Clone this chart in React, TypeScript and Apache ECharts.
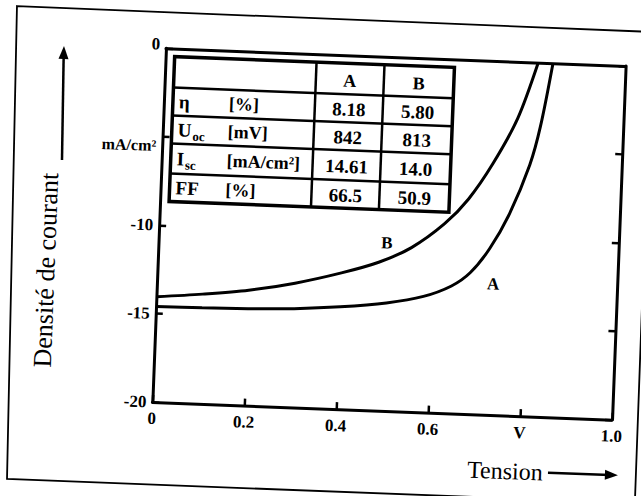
import React, { useEffect, useRef } from "react";
import * as echarts from "echarts";

// ---- data ----
const voltageA = [0, 0.1, 0.2, 0.3, 0.4, 0.5, 0.58, 0.64, 0.68, 0.72, 0.76, 0.8, 0.82, 0.842];
const currentA = [-14.6, -14.57, -14.52, -14.42, -14.22, -13.9, -13.45, -12.8, -12.0, -10.6, -8.6, -5.8, -3.6, 0];
const voltageB = [0, 0.1, 0.2, 0.3, 0.4, 0.48, 0.55, 0.62, 0.67, 0.72, 0.77, 0.81];
const currentB = [-14.05, -13.8, -13.48, -12.98, -12.3, -11.62, -10.72, -9.3, -7.85, -5.8, -3.2, 0];

const xTickValues = [0, 0.2, 0.4, 0.6, 0.8, 1.0];
const xTickLabels = ["0", "0.2", "0.4", "0.6", "V", "1.0"];
const yTickValues = [0, -5, -10, -15, -20];
const yTickLabels = ["0", "mA/cm²", "-10", "-15", "-20"];

const tableColumns = ["A", "B"];
const paramNames = ["η", "U", "I", "FF"];
const paramSubs = ["", "oc", "sc", ""];
const paramUnits = ["[%]", "[mV]", "[mA/cm²]", "[%]"];
const valuesA = ["8.18", "842", "14.61", "66.5"];
const valuesB = ["5.80", "813", "14.0", "50.9"];

const xTitle = "Tension";
const yTitle = "Densité de courant";

// ---- page geometry ----
const ANGLE = 2.2; // scan is rotated clockwise
const CX = 389.5;
const CY = 234;
const SERIF = "'Liberation Serif', 'DejaVu Serif', serif";

function toChart(sx: number, sy: number): [number, number] {
  const r = (ANGLE * Math.PI) / 180;
  const c = Math.cos(r);
  const s = Math.sin(r);
  const dx = sx - CX;
  const dy = sy - CY;
  return [dx * c + dy * s + CX, -dx * s + dy * c + CY];
}

function pickLabel(values: number[], labels: string[], v: number) {
  for (let i = 0; i < values.length; i++) {
    if (Math.abs(values[i] - v) < 1e-6) return labels[i];
  }
  return "";
}

function measure(text: string, font: string) {
  const ctx = document.createElement("canvas").getContext("2d");
  if (!ctx) return text.length * 10;
  ctx.font = font;
  return ctx.measureText(text).width;
}

function buildTable(): any[] {
  const x0 = 168;
  const y0 = 65;
  const colX = [0, 142, 210, 280];
  const rowY = [0, 31, 59, 87, 117, 145];
  const W = colX[colX.length - 1];
  const H = rowY[rowY.length - 1];
  const els: any[] = [];
  const line = (x1: number, y1: number, x2: number, y2: number, w: number) =>
    els.push({
      type: "line",
      shape: { x1: x0 + x1, y1: y0 + y1, x2: x0 + x2, y2: y0 + y2 },
      style: { stroke: "#000", lineWidth: w },
      silent: true,
    });
  els.push({
    type: "rect",
    shape: { x: x0, y: y0, width: W, height: H },
    style: { fill: "#fff", stroke: "#000", lineWidth: 3.5 },
    silent: true,
  });
  for (let i = 1; i < rowY.length - 1; i++) line(0, rowY[i], W, rowY[i], 2.5);
  for (let j = 1; j < colX.length - 1; j++) line(colX[j], 0, colX[j], H, 2.5);

  const txt = (text: string, x: number, y: number, size: number, align = "center") =>
    els.push({
      type: "text",
      x: x0 + x,
      y: y0 + y,
      style: {
        text,
        fill: "#000",
        font: `bold ${size}px ${SERIF}`,
        align,
        verticalAlign: "middle",
      },
      silent: true,
    });

  tableColumns.forEach((c, j) => {
    txt(c, (colX[j + 1] + colX[j + 2]) / 2, (rowY[0] + rowY[1]) / 2 + 2, 18);
  });
  for (let i = 0; i < paramNames.length; i++) {
    const cy = (rowY[i + 1] + rowY[i + 2]) / 2;
    txt(paramNames[i], 6, cy, 19, "left");
    if (paramSubs[i]) {
      const w = measure(paramNames[i], `bold 19px ${SERIF}`);
      txt(paramSubs[i], 7 + w, cy + 6, 13, "left");
    }
    txt(paramUnits[i], 56, cy, 18, "left");
    txt(valuesA[i], (colX[1] + colX[2]) / 2, cy + 1, 19);
    txt(valuesB[i], (colX[2] + colX[3]) / 2, cy + 1, 19);
  }
  return els;
}

function buildDecor(): any[] {
  const els: any[] = [];
  // outer scan frame
  els.push({
    type: "polygon",
    shape: { points: [[8.5, 20.5], [644, 22], [645, 493.5], [16.7, 493.5]] },
    style: { fill: "none", stroke: "#000", lineWidth: 1.8 },
    silent: true,
  });
  // y title
  const [yx, yy] = toChart(46, 270);
  els.push({
    type: "text",
    x: yx,
    y: yy,
    rotation: Math.PI / 2,
    style: {
      text: yTitle,
      fill: "#000",
      font: `26px ${SERIF}`,
      align: "center",
      verticalAlign: "middle",
    },
    silent: true,
  });
  // y arrow
  const [ax1, ay1] = toChart(62, 160);
  const [ax2, ay2] = toChart(64, 46);
  els.push({
    type: "line",
    shape: { x1: ax1, y1: ay1, x2: ax2, y2: ay2 + 8 },
    style: { stroke: "#000", lineWidth: 2.5 },
    silent: true,
  });
  els.push({
    type: "polygon",
    shape: { points: [[ax2, ay2], [ax2 - 5, ay2 + 13], [ax2 + 5, ay2 + 13]] },
    style: { fill: "#000" },
    silent: true,
  });
  // x title
  const [tx, ty] = toChart(505, 471);
  els.push({
    type: "text",
    x: tx,
    y: ty,
    style: {
      text: xTitle,
      fill: "#000",
      font: `24px ${SERIF}`,
      align: "center",
      verticalAlign: "middle",
    },
    silent: true,
  });
  const bx1 = tx + 43;
  const bx2 = bx1 + 70;
  els.push({
    type: "line",
    shape: { x1: bx1, y1: ty, x2: bx2 - 8, y2: ty },
    style: { stroke: "#000", lineWidth: 2.5 },
    silent: true,
  });
  els.push({
    type: "polygon",
    shape: { points: [[bx2, ty], [bx2 - 13, ty - 5], [bx2 - 13, ty + 5]] },
    style: { fill: "#000" },
    silent: true,
  });
  // curve labels
  const [lax, lay] = toChart(493, 284);
  const [lbx, lby] = toChart(387, 243);
  [["A", lax, lay], ["B", lbx, lby]].forEach(([t, x, y]) =>
    els.push({
      type: "text",
      x,
      y,
      style: {
        text: t,
        fill: "#000",
        font: `bold 17px ${SERIF}`,
        align: "center",
        verticalAlign: "middle",
      },
      silent: true,
    })
  );
  return els;
}

export default function App() {
  const ref = useRef<HTMLDivElement>(null);

  useEffect(() => {
    if (!ref.current) return;
    const chart = echarts.init(ref.current, undefined, { renderer: "svg" });
    const axisLine = { show: true, onZero: false, lineStyle: { color: "#000", width: 3 } };
    const labelStyle = {
      color: "#000",
      fontFamily: SERIF,
      fontWeight: "bold" as const,
      fontSize: 17,
    };
    const tick = { show: true, inside: true, length: 7, lineStyle: { color: "#000", width: 2.5 } };
    chart.setOption({
      animation: false,
      backgroundColor: "#fff",
      grid: { left: 159, top: 57, width: 460, height: 354 },
      xAxis: [
        {
          type: "value",
          position: "bottom",
          min: 0,
          max: 1,
          interval: 0.2,
          axisLine,
          axisTick: tick,
          axisLabel: {
            ...labelStyle,
            margin: 8,
            formatter: (v: number) => pickLabel(xTickValues, xTickLabels, v),
          },
          splitLine: { show: false },
        },
        {
          type: "value",
          position: "top",
          min: 0,
          max: 1,
          axisLine,
          axisTick: { show: false },
          axisLabel: { show: false },
          splitLine: { show: false },
        },
      ],
      yAxis: [
        {
          type: "value",
          position: "left",
          min: -20,
          max: 0,
          interval: 5,
          axisLine,
          axisTick: tick,
          axisLabel: {
            ...labelStyle,
            margin: 6,
            formatter: (v: number) => {
              const t = pickLabel(yTickValues, yTickLabels, v);
              if (t.indexOf("/") >= 0) return `{u|${t}}`;
              if (v === 0) return `{z|${t}}`;
              return t;
            },
            rich: {
              u: { fontFamily: SERIF, fontWeight: "bold", fontSize: 16, color: "#000", padding: [18, 0, 0, 0] },
              z: { fontFamily: SERIF, fontWeight: "bold", fontSize: 17, color: "#000", padding: [0, 0, 8, 0] },
            },
          },
          splitLine: { show: false },
        },
        {
          type: "value",
          position: "right",
          min: -20,
          max: 0,
          interval: 5,
          axisLine,
          axisTick: tick,
          axisLabel: { show: false },
          splitLine: { show: false },
        },
      ],
      series: [
        {
          name: "A",
          type: "line",
          xAxisIndex: 0,
          yAxisIndex: 0,
          data: voltageA.map((v, i) => [v, currentA[i]]),
          showSymbol: false,
          smooth: 0.3,
          lineStyle: { color: "#000", width: 3 },
        },
        {
          name: "B",
          type: "line",
          xAxisIndex: 0,
          yAxisIndex: 0,
          data: voltageB.map((v, i) => [v, currentB[i]]),
          showSymbol: false,
          smooth: 0.3,
          lineStyle: { color: "#000", width: 3 },
        },
      ],
      graphic: [...buildDecor(), ...buildTable()],
    });
    return () => chart.dispose();
  }, []);

  return (
    <div
      style={{
        position: "fixed",
        left: 0,
        top: 0,
        width: 641,
        height: 496,
        overflow: "hidden",
        background: "#fff",
      }}
    >
      <div
        ref={ref}
        style={{
          position: "absolute",
          left: 0,
          top: 0,
          width: 680,
          height: 540,
          transform: `rotate(${ANGLE}deg)`,
          transformOrigin: `${CX}px ${CY}px`,
        }}
      />
    </div>
  );
}
